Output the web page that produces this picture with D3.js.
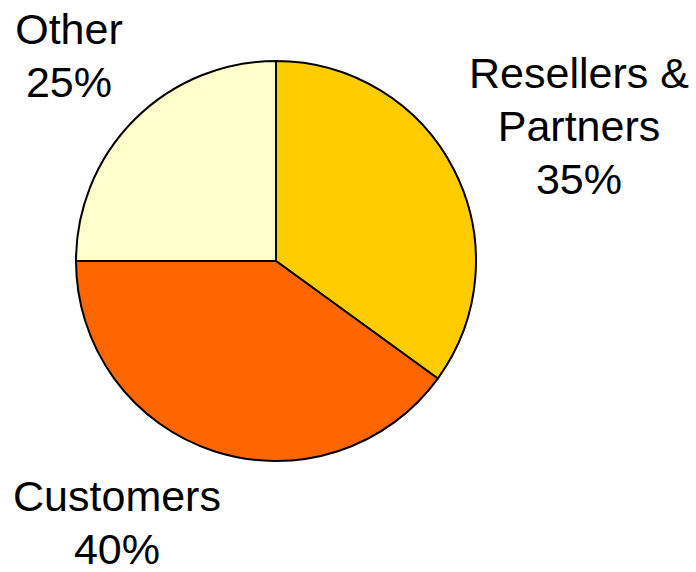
<!DOCTYPE html>
<html>
<head>
<meta charset="utf-8">
<script src="https://cdn.jsdelivr.net/npm/d3@7"></script>
<style>
  body { margin: 0; background: #fff; }
  svg { display: block; }
</style>
</head>
<body>
<svg id="chart" width="696" height="572"></svg>
<script>
// data
const categories = ["Resellers & Partners", "Customers", "Other"];
const values = [35, 40, 25];
const colors = ["#FFCC00", "#FF6600", "#FFFFCC"];
// label lines per slice
const labelLines = [["Resellers &", "Partners", "35%"], ["Customers", "40%"], ["Other", "25%"]];

const svg = d3.select("#chart");
const cx = 276, cy = 261, r = 200;

const pie = d3.pie().sort(null).value(d => d.value);
const arc = d3.arc().innerRadius(0).outerRadius(r);

const data = categories.map((c, i) => ({name: c, value: values[i], color: colors[i], lines: labelLines[i]}));

const g = svg.append("g").attr("transform", `translate(${cx},${cy})`);

g.selectAll("path")
  .data(pie(data))
  .join("path")
  .attr("d", arc)
  .attr("fill", d => d.data.color)
  .attr("stroke", "#000")
  .attr("stroke-width", 2)
  .attr("stroke-linejoin", "round");

// label anchors (center x, first baseline y)
const labelPos = [
  {x: 579, y: 88},
  {x: 117, y: 511},
  {x: 69, y: 44}
];

data.forEach((d, i) => {
  const t = svg.append("text")
    .attr("text-anchor", "middle")
    .attr("font-family", "Liberation Sans, Arial, sans-serif")
    .attr("font-size", 43)
    .attr("fill", "#000");
  d.lines.forEach((line, j) => {
    t.append("tspan")
      .attr("x", labelPos[i].x)
      .attr("y", labelPos[i].y + j * 53)
      .text(line);
  });
});
</script>
</body>
</html>
